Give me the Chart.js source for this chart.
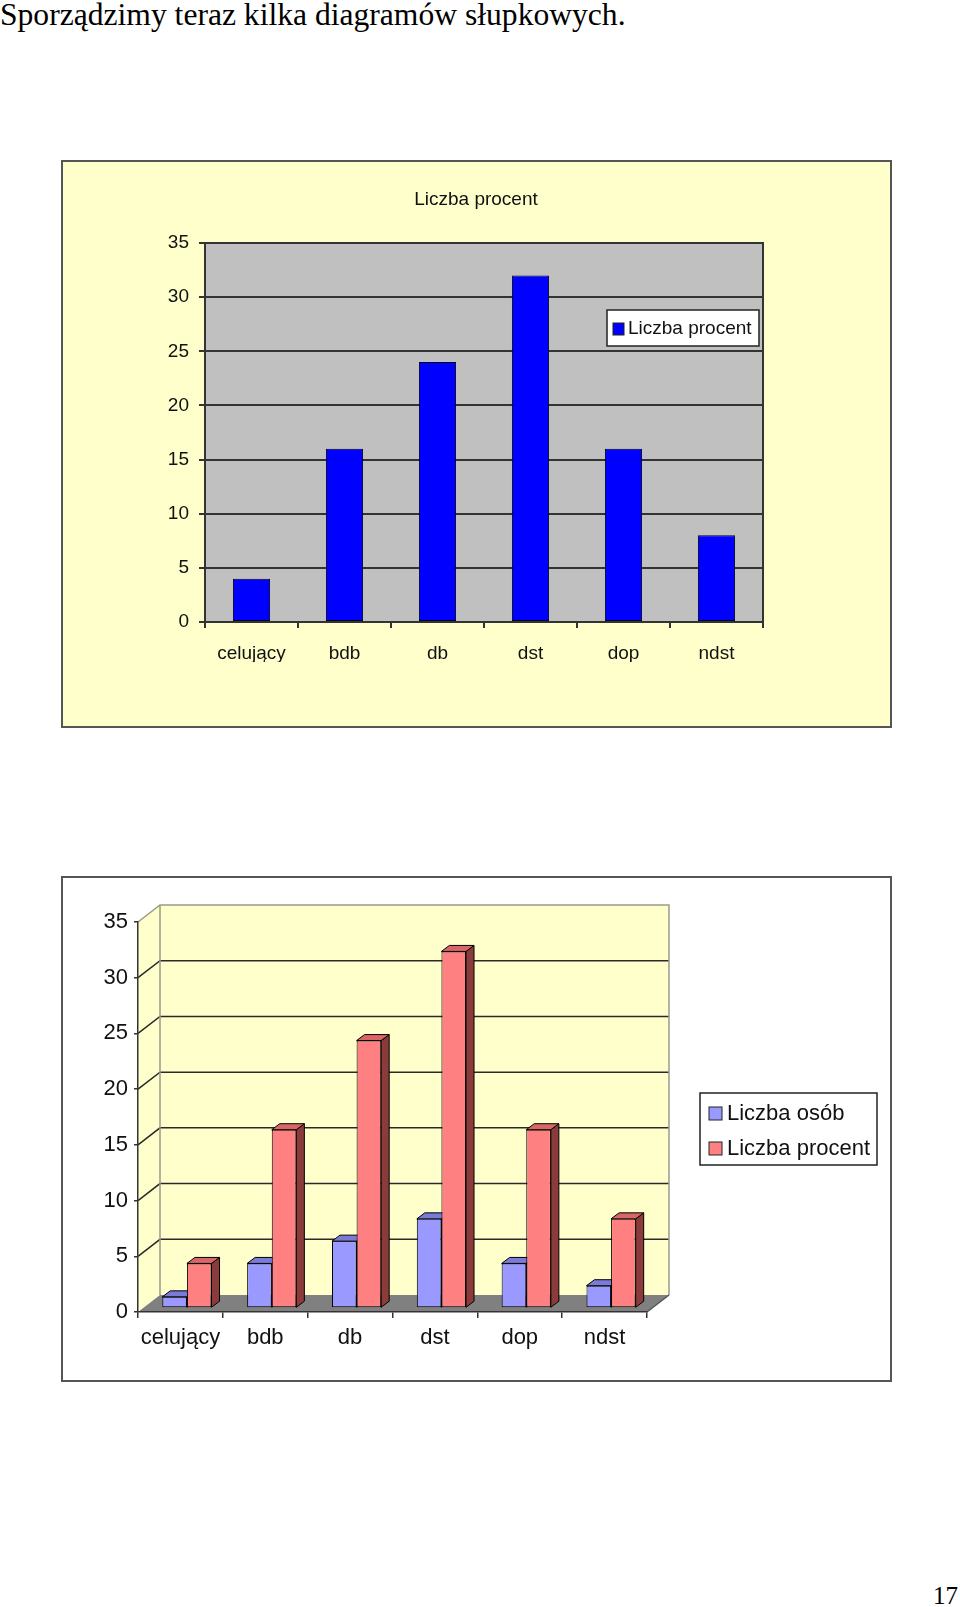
<!DOCTYPE html>
<html lang="pl">
<head>
<meta charset="utf-8">
<title>Diagramy słupkowe</title>
<script src="https://cdn.jsdelivr.net/npm/chart.js@4.4.1/dist/chart.umd.min.js"></script>
<style>
  html, body { margin: 0; padding: 0; background: #fff; }
  body { width: 960px; height: 1607px; position: relative; overflow: hidden; }
  .heading { position: absolute; left: 0; top: -1px; font: 31.6px/31px "Liberation Serif", "Times New Roman", serif; color: #000; white-space: nowrap; }
  .page-no { position: absolute; right: 2px; top: 1583px; font: 25px/25px "Liberation Serif", "Times New Roman", serif; color: #000; }
  .box { position: absolute; left: 61px; width: 831px; box-sizing: border-box; border: 2px solid #555; }
  #box1 { top: 160px; height: 568px; background: #ffffcc; }
  #box2 { top: 876px; height: 506px; background: #fff; }
  canvas { display: block; }
</style>
</head>
<body>
<div class="heading">Sporządzimy teraz kilka diagramów słupkowych.</div>
<div class="box" id="box1"><canvas id="chart1" width="827" height="564"></canvas></div>
<div class="box" id="box2"><canvas id="chart2" width="827" height="502"></canvas></div>
<div class="page-no">17</div>
<script>
// data
var categories = ["celujący", "bdb", "db", "dst", "dop", "ndst"];
var liczbaOsob = [1, 4, 6, 8, 4, 2];
var liczbaProcent = [4, 16, 24, 32, 16, 8];
var seriesNames = ["Liczba osób", "Liczba procent"];
var yMax = 35, yStep = 5;

var font = "'Liberation Sans', Arial, sans-serif";
var ink = "#111";

Chart.defaults.font.family = font;
Chart.defaults.color = ink;
Chart.defaults.animation = false;

// ---------- chart 1: flat bars on grey plot ----------
var flatDecor = {
	id: 'flatDecor',
	beforeDraw: function (chart) {
		var a = chart.chartArea, c = chart.ctx;
		c.save();
		c.fillStyle = '#c0c0c0';
		c.fillRect(a.left, a.top, a.right - a.left, a.bottom - a.top);
		c.restore();
	},
	afterDraw: function (chart) {
		var a = chart.chartArea, c = chart.ctx;
		c.save();
		c.strokeStyle = '#333';
		c.lineWidth = 2;
		c.beginPath();
		c.moveTo(a.left, a.top);
		c.lineTo(a.right, a.top);
		c.lineTo(a.right, a.bottom);
		c.stroke();

		// title
		c.fillStyle = ink;
		c.font = '19px ' + font;
		c.textAlign = 'center';
		c.textBaseline = 'middle';
		c.fillText(seriesNames[1], 413, 38);

		// legend box
		c.fillStyle = '#fff';
		c.fillRect(544, 148, 152, 36);
		c.lineWidth = 1.5;
		c.strokeStyle = '#222';
		c.strokeRect(544, 148, 152, 36);
		c.fillStyle = '#0000ff';
		c.fillRect(550, 161, 11, 12);
		c.lineWidth = 1;
		c.strokeRect(550, 161, 11, 12);
		c.fillStyle = ink;
		c.textAlign = 'left';
		c.fillText(seriesNames[1], 565, 167);
		c.restore();
	}
};

new Chart(document.getElementById('chart1').getContext('2d'), {
	type: 'bar',
	data: {
		labels: categories,
		datasets: [{
			label: seriesNames[1],
			data: liczbaProcent,
			backgroundColor: '#0000ff',
			borderColor: '#000022',
			borderWidth: 1,
			borderSkipped: false,
			barPercentage: 0.4,
			categoryPercentage: 1
		}]
	},
	options: {
		responsive: false,
		layout: { padding: { left: 0, right: 127, top: 81, bottom: 64 } },
		plugins: { legend: { display: false }, tooltip: { enabled: false } },
		scales: {
			x: {
				afterFit: function (s) { s.height = 40; },
				grid: { drawOnChartArea: false, offset: true, tickLength: 6, color: '#333', lineWidth: 2 },
				border: { color: '#333', width: 2 },
				ticks: { font: { size: 19 }, padding: 14, color: ink, maxRotation: 0 }
			},
			y: {
				min: 0,
				max: yMax,
				afterFit: function (s) { s.width = 142; },
				grid: { color: '#333', lineWidth: 2, tickLength: 6 },
				border: { color: '#333', width: 2 },
				ticks: { stepSize: yStep, font: { size: 19 }, padding: 10, color: ink }
			}
		}
	},
	plugins: [flatDecor]
});

// ---------- chart 2: pseudo 3D clustered bars ----------
var wallDx = 22, wallDy = -17;
var barShiftX = 6.5, barShiftY = -4;
var barDepthX = 8, barDepthY = -6;
var sideColors = ['#4d4d99', '#8c3b3b'];
var topColors = ['#7a7ad9', '#d96666'];

var depthDecor = {
	id: 'depthDecor',
	beforeDraw: function (chart) {
		var a = chart.chartArea, ys = chart.scales.y, c = chart.ctx;
		var L = a.left, R = a.right, T = a.top, B = a.bottom;
		c.save();
		c.fillStyle = '#ffffcc';
		c.beginPath();
		c.moveTo(L, T); c.lineTo(L + wallDx, T + wallDy);
		c.lineTo(L + wallDx, B + wallDy); c.lineTo(L, B);
		c.closePath(); c.fill();
		c.fillRect(L + wallDx, T + wallDy, R - L, B - T);

		c.fillStyle = '#808080';
		c.beginPath();
		c.moveTo(L, B); c.lineTo(R, B);
		c.lineTo(R + wallDx, B + wallDy); c.lineTo(L + wallDx, B + wallDy);
		c.closePath(); c.fill();

		c.strokeStyle = '#2a2a2a';
		c.lineWidth = 1.5;
		for (var v = yStep; v < yMax; v += yStep) {
			var py = ys.getPixelForValue(v);
			c.beginPath();
			c.moveTo(L, py);
			c.lineTo(L + wallDx, py + wallDy);
			c.lineTo(R + wallDx, py + wallDy);
			c.stroke();
		}

		c.strokeStyle = '#9a9a8a';
		c.beginPath();
		c.moveTo(L, T); c.lineTo(L + wallDx, T + wallDy);
		c.lineTo(R + wallDx, T + wallDy); c.lineTo(R + wallDx, B + wallDy);
		c.moveTo(L + wallDx, T + wallDy); c.lineTo(L + wallDx, B + wallDy);
		c.stroke();

		c.strokeStyle = '#555';
		c.beginPath();
		c.moveTo(R, B); c.lineTo(R + wallDx, B + wallDy);
		c.stroke();
		c.restore();
	},
	beforeDatasetsDraw: function (chart) {
		var c = chart.ctx;
		c.save();
		c.translate(barShiftX, barShiftY);
		c.lineWidth = 1;
		c.strokeStyle = '#000';
		chart.data.datasets.forEach(function (ds, i) {
			chart.getDatasetMeta(i).data.forEach(function (el) {
				var l = el.x - el.width / 2, r = el.x + el.width / 2;
				var t = el.y, b = el.base;
				c.fillStyle = sideColors[i];
				c.beginPath();
				c.moveTo(r, t); c.lineTo(r + barDepthX, t + barDepthY);
				c.lineTo(r + barDepthX, b + barDepthY); c.lineTo(r, b);
				c.closePath(); c.fill(); c.stroke();
				c.fillStyle = topColors[i];
				c.beginPath();
				c.moveTo(l, t); c.lineTo(l + barDepthX, t + barDepthY);
				c.lineTo(r + barDepthX, t + barDepthY); c.lineTo(r, t);
				c.closePath(); c.fill(); c.stroke();
			});
		});
	},
	afterDatasetsDraw: function (chart) {
		chart.ctx.restore();
	},
	afterDraw: function (chart) {
		var c = chart.ctx;
		c.save();
		c.fillStyle = '#fff';
		c.fillRect(637, 215, 177, 72);
		c.strokeStyle = '#222';
		c.lineWidth = 1.5;
		c.strokeRect(637, 215, 177, 72);
		c.font = '22px ' + font;
		c.textAlign = 'left';
		c.textBaseline = 'middle';
		var swatch = ['#9999ff', '#ff8080'];
		var rows = [235, 270];
		for (var i = 0; i < 2; i++) {
			c.fillStyle = swatch[i];
			c.fillRect(646, rows[i] - 6, 13, 13);
			c.lineWidth = 1;
			c.strokeRect(646, rows[i] - 6, 13, 13);
			c.fillStyle = ink;
			c.fillText(seriesNames[i], 664, rows[i] + 1);
		}
		c.restore();
	}
};

new Chart(document.getElementById('chart2').getContext('2d'), {
	type: 'bar',
	data: {
		labels: categories,
		datasets: [{
			label: seriesNames[0],
			data: liczbaOsob,
			backgroundColor: '#9999ff',
			borderColor: '#000',
			borderWidth: 1,
			borderSkipped: false,
			barPercentage: 1,
			categoryPercentage: 0.58
		}, {
			label: seriesNames[1],
			data: liczbaProcent,
			backgroundColor: '#ff8080',
			borderColor: '#000',
			borderWidth: 1,
			borderSkipped: false,
			barPercentage: 1,
			categoryPercentage: 0.58
		}]
	},
	options: {
		responsive: false,
		layout: { padding: { left: 0, right: 243, top: 44, bottom: 28 } },
		plugins: { legend: { display: false }, tooltip: { enabled: false } },
		scales: {
			x: {
				afterFit: function (s) { s.height = 40; },
				grid: { drawOnChartArea: false, offset: true, tickLength: 6, color: '#333', lineWidth: 1.5 },
				border: { color: '#333', width: 1.5 },
				ticks: { font: { size: 22 }, padding: 7, color: ink, maxRotation: 0 }
			},
			y: {
				min: 0,
				max: yMax,
				afterFit: function (s) { s.width = 75; },
				grid: { drawOnChartArea: false, tickLength: 4, color: '#333', lineWidth: 1.5 },
				border: { color: '#333', width: 1.5 },
				ticks: { stepSize: yStep, font: { size: 22 }, padding: 6, color: ink }
			}
		}
	},
	plugins: [depthDecor]
});
</script>
</body>
</html>
